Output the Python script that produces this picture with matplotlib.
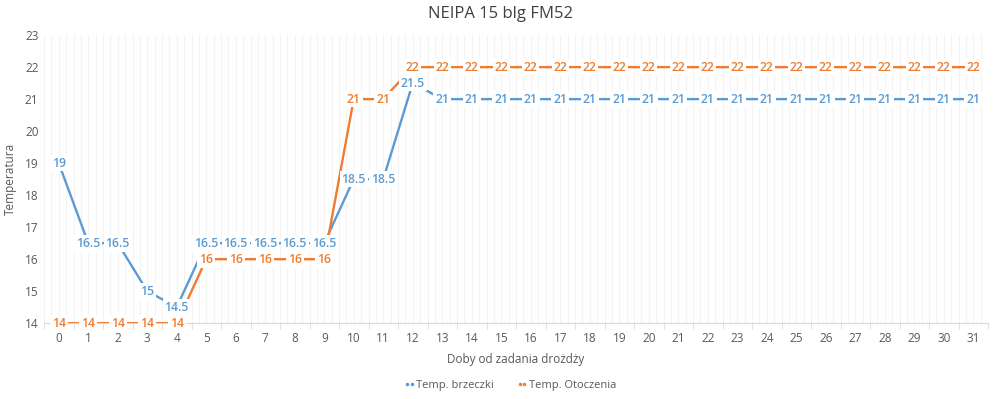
import matplotlib
matplotlib.use('Agg')
import matplotlib.pyplot as plt
from matplotlib.lines import Line2D

plt.rcParams['font.family'] = ['Open Sans', 'DejaVu Sans']

days = list(range(32))
brzeczka = [19, 16.5, 16.5, 15, 14.5, 16.5, 16.5, 16.5, 16.5, 16.5, 18.5, 18.5, 21.5] + [21] * 19
otoczenie = [14, 14, 14, 14, 14, 16, 16, 16, 16, 16, 21, 21] + [22] * 20
labels = ['Temp. brzeczki', 'Temp. Otoczenia']
colors = ['#5B9BD5', '#ED7D31']


def fmt(v):
    return ('%g' % v)


fig = plt.figure(figsize=(10, 3.99), dpi=100)
ax = fig.add_axes([0.044, 0.19, 0.944, 0.722])

for ydata, col in zip([brzeczka, otoczenie], colors):
    ax.plot(days, ydata, color=col, linewidth=1.7, zorder=3, solid_capstyle='butt')
    for x, y in zip(days, ydata):
        ax.text(x, y, fmt(y), color=col, fontsize=8.8, fontweight='semibold',
                ha='center', va='center', zorder=5,
                bbox=dict(facecolor='white', edgecolor='none', pad=1.3))

ax.set_xlim(-0.5, 31.5)
ax.set_ylim(14, 23)
ax.set_xticks(days)
ax.set_xticks([d + 0.5 for d in range(-1, 32)], minor=True)
ax.set_yticks(range(14, 24))
ax.tick_params(axis='x', which='major', length=0, labelsize=8.5, colors='#595959', pad=6)
ax.tick_params(axis='x', which='minor', length=4, color='#d9d9d9', direction='out')
ax.tick_params(axis='y', length=0, labelsize=8.5, colors='#595959', pad=4)

# faint vertical grid
for k in range(32 * 4 + 1):
    ax.axvline(-0.5 + k * 0.25, color='#f3f3f3', linewidth=0.8, zorder=0)

for s in ['top', 'right', 'left']:
    ax.spines[s].set_visible(False)
ax.spines['bottom'].set_color('#d9d9d9')

ax.set_xlabel('Doby od zadania drożdży', fontsize=8.5, color='#595959', labelpad=6)
ax.set_ylabel('Temperatura', fontsize=8.5, color='#595959')
ax.yaxis.set_label_coords(-0.029, 0.5)
fig.suptitle('NEIPA 15 blg FM52', fontsize=12, color='#404040', y=0.985)

handles = [Line2D([0], [0], color=c, marker='.', markersize=3, linestyle='none') for c in colors]
fig.legend(handles, labels, loc='center', bbox_to_anchor=(0.51, 0.035), ncol=2,
           frameon=False, numpoints=2, fontsize=8, labelcolor='#595959',
           handlelength=1.0, handletextpad=0.1, columnspacing=2)

fig.savefig('out.png', dpi=100)
